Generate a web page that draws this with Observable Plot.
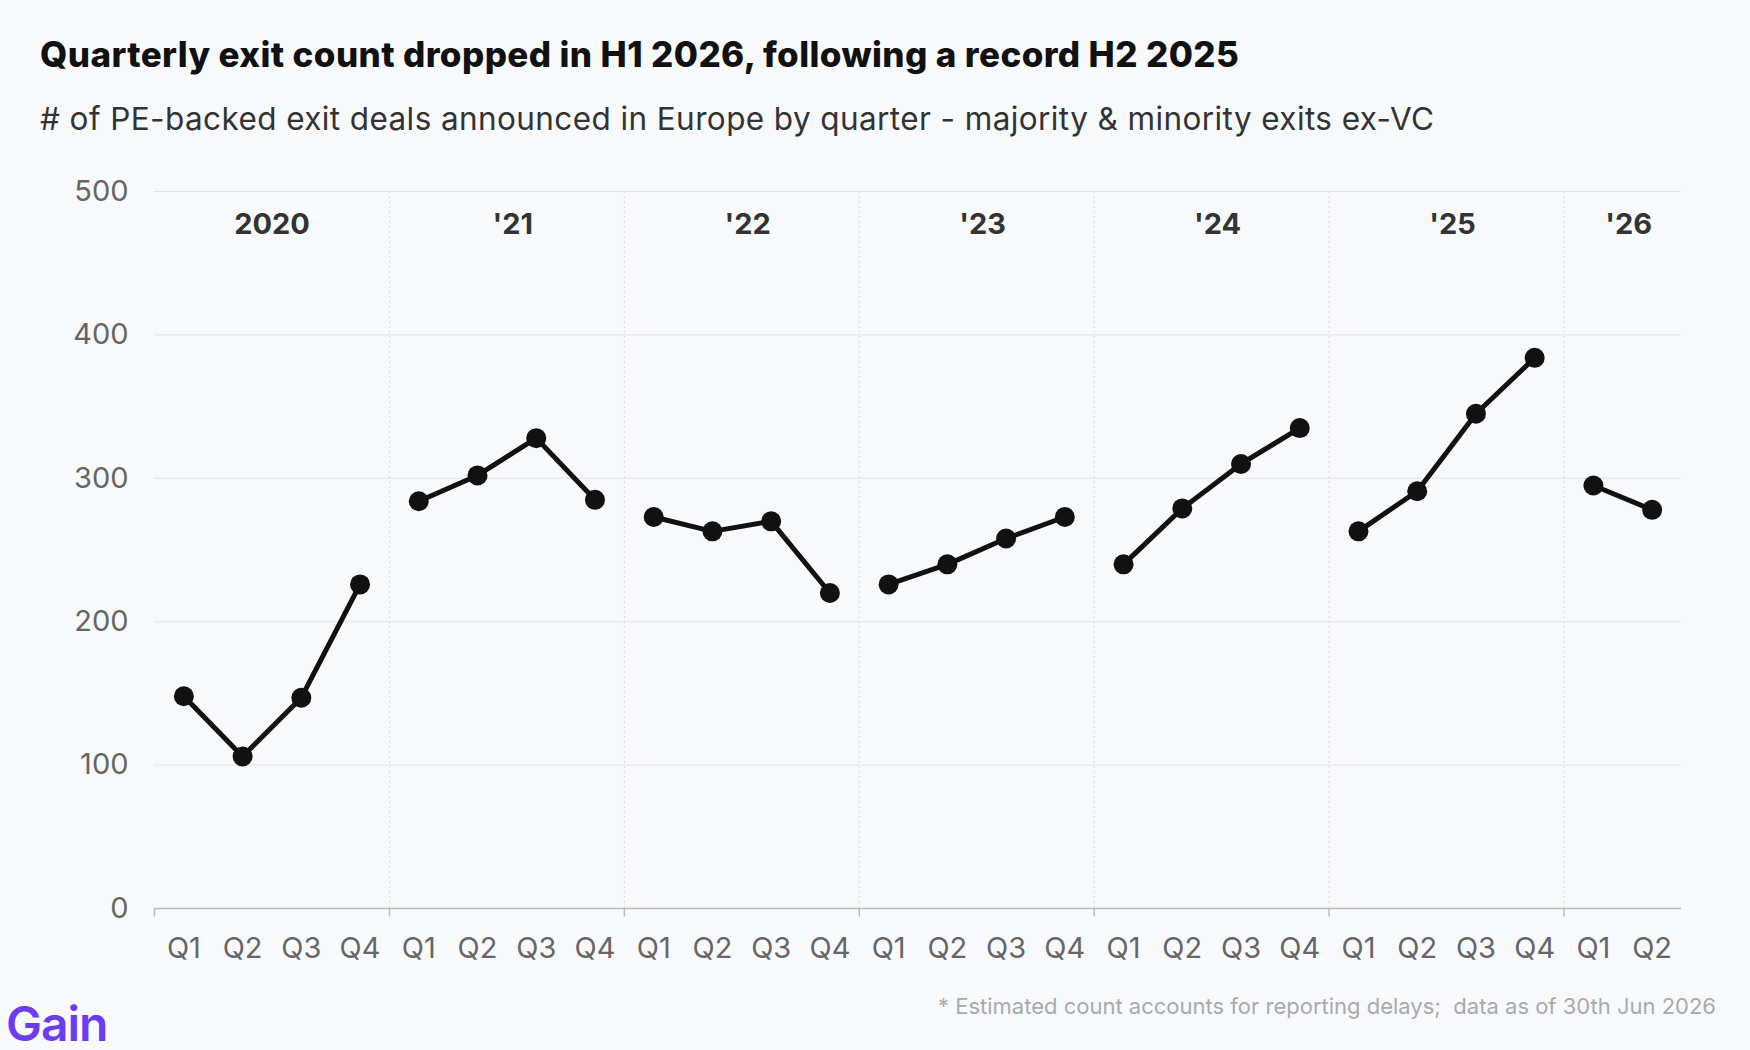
<!DOCTYPE html>
<html><head><meta charset="utf-8">
<script src="https://cdn.jsdelivr.net/npm/d3@7"></script>
<script src="https://cdn.jsdelivr.net/npm/@observablehq/plot@0.6"></script>
<style>
body{margin:0;background:#f8f9fb;font-family:Inter,"Noto Sans",sans-serif;width:1750px;height:1050px;position:relative;overflow:hidden}
h1{position:absolute;left:40px;top:33px;margin:0;font-size:35px;font-weight:800;color:#111;letter-spacing:0.4px}
h2{position:absolute;left:40px;top:99px;margin:0;font-size:31.5px;font-weight:400;color:#333;letter-spacing:0.4px}
#chart{position:absolute;left:0;top:150px}
.foot{position:absolute;right:34px;top:993px;font-size:22px;color:#aaa}
.logo{position:absolute;left:6px;top:994px;font-size:48px;font-weight:600;color:#6a3df0;letter-spacing:-1px}
</style></head>
<body>
<h1>Quarterly exit count dropped in H1 2026, following a record H2 2025</h1>
<h2># of PE-backed exit deals announced in Europe by quarter - majority &amp; minority exits ex-VC</h2>
<div id="chart"></div>
<div class="foot">* Estimated count accounts for reporting delays;&nbsp; data as of 30th Jun 2026</div>
<div class="logo">Gain</div>
<script>
const years = ["2020","'21","'22","'23","'24","'25","'26"];
const quarters = ["Q1","Q2","Q3","Q4"];
const counts = [
  [148,106,147,226],
  [284,302,328,285],
  [273,263,270,220],
  [226,240,258,273],
  [240,279,310,335],
  [263,291,345,384],
  [295,278]
];
const data = [];
counts.forEach((vals,yi)=>vals.forEach((v,qi)=>data.push({i:data.length, year:years[yi], q:quarters[qi], v})));
const n = data.length;
const seps = d3.range(3.5, n, 4);
const yearLabels = years.map((y,yi)=>{
  const pts = data.filter(d=>d.year===y);
  return {year:y, x:d3.mean(pts,d=>d.i) + (yi===0 ? 0 : 0.1)};
});
const chart = Plot.plot({
  width:1750, height:840,
  marginLeft:154, marginRight:69, marginTop:41, marginBottom:82,
  style:{background:"transparent", fontFamily:"Inter, 'Noto Sans', sans-serif"},
  x:{domain:[-0.5,n-0.5], axis:null},
  y:{domain:[0,500], axis:null},
  marks:[
    Plot.ruleY([100,200,300,400,500],{stroke:"#e3e4e8"}),
    Plot.ruleX(seps,{y1:0,y2:500,stroke:"#d8d9de",strokeDasharray:"2,3"}),
    Plot.ruleY([0],{stroke:"#bbb",strokeWidth:1.5}),
    Plot.ruleX([-0.5,...seps],{y1:0,y2:-6,stroke:"#bbb",strokeWidth:1.5}),
    Plot.text([0,100,200,300,400,500],{x:-0.5,y:d=>d,text:d=>String(d),textAnchor:"end",dx:-26,fontSize:29,fill:"#666"}),
    Plot.text(data,{x:"i",y:0,text:"q",dy:40,fontSize:29,fill:"#666"}),
    Plot.text(yearLabels,{x:"x",y:500,text:"year",dy:33,fontSize:29,fontWeight:700,fill:"#333"}),
    Plot.line(data,{x:"i",y:"v",z:"year",stroke:"#111",strokeWidth:5}),
    Plot.dot(data,{x:"i",y:"v",r:10,fill:"#111"})
  ]
});
d3.select("#chart").append(()=>chart);
</script>
</body></html>
